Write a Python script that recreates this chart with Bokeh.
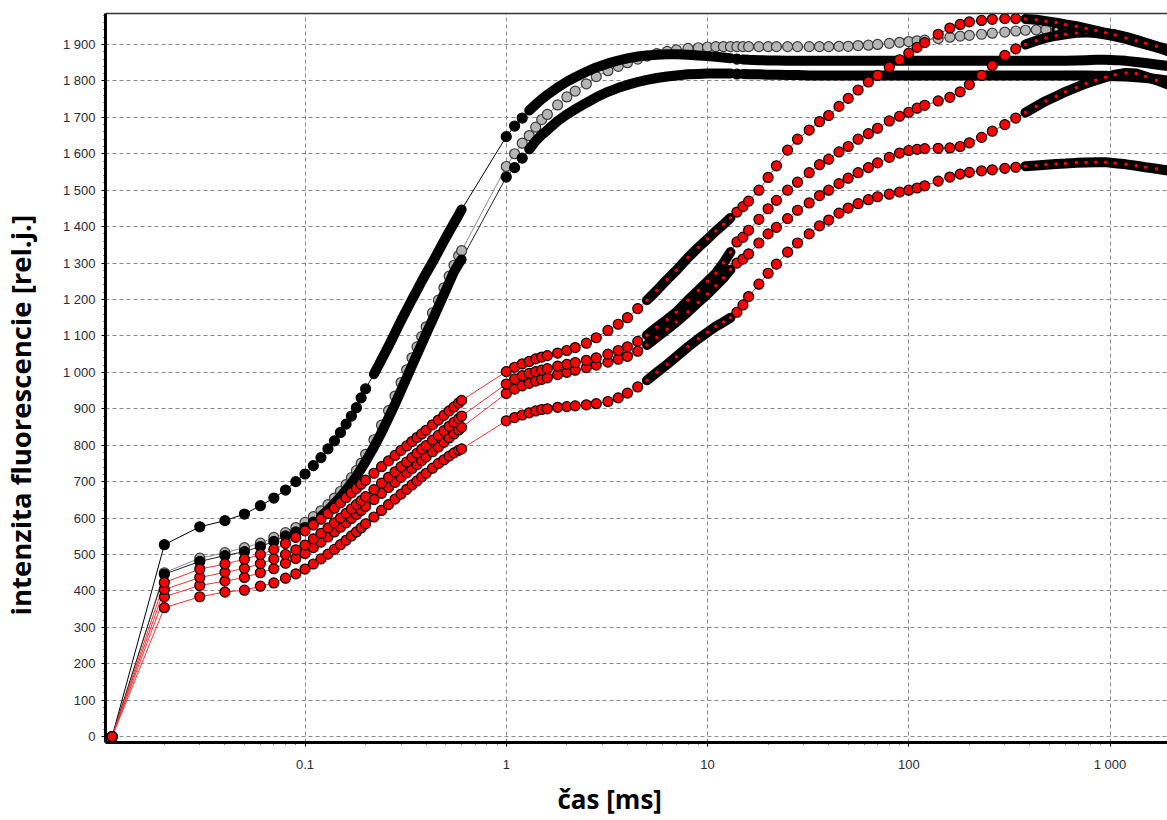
import math
from bokeh.plotting import figure
from bokeh.models import Range1d, FixedTicker, LogAxis, Title, CustomJSTickFormatter
from bokeh.embed import file_html
from bokeh.resources import INLINE

# time [ms]
time_ms = [0.011, 0.02, 0.03, 0.04, 0.05, 0.06, 0.07, 0.08, 0.09, 0.10,
           0.11, 0.12, 0.13, 0.14, 0.15, 0.16, 0.17, 0.18, 0.19, 0.20,
           0.22, 0.24, 0.26, 0.28, 0.30, 0.32, 0.34, 0.36, 0.38, 0.40,
           0.43, 0.46, 0.49, 0.52, 0.55, 0.58, 0.60,
           1.0, 1.1, 1.2, 1.3, 1.4, 1.5, 1.6, 1.8, 2.0, 2.2, 2.5, 2.8, 3.2, 3.6,
           4.0, 4.5, 5.0, 5.6, 6.3, 7.0, 8.0, 9.0, 10, 11, 12, 13,
           14, 15, 16, 18, 20, 22, 25, 28, 32, 36, 40, 45, 50, 56, 63, 70, 80, 90, 100,
           110, 120, 140, 160, 180, 200, 230, 260, 300, 340, 380, 430, 480, 540, 600,
           680, 760, 850, 950, 1060, 1200, 1350, 1500, 1700, 2000]

black_top = [0, 527, 576, 593, 611, 634, 655, 677, 700, 721,
             744, 766, 790, 812, 835, 858, 880, 903, 930, 955,
             995, 1035, 1072, 1108, 1142, 1172, 1200, 1225, 1250, 1272,
             1302, 1332, 1360, 1386, 1410, 1432, 1447,
             1647, 1676, 1698, 1719, 1735, 1750, 1762, 1782, 1798, 1810, 1825, 1837, 1848, 1856,
             1862, 1867, 1870, 1872, 1873, 1873, 1872, 1870, 1868, 1866, 1864, 1862,
             1860, 1859, 1858, 1857, 1856, 1856, 1855, 1855, 1855, 1855, 1855, 1855, 1855, 1855, 1855, 1855, 1855, 1855, 1855,
             1855, 1855, 1855, 1855, 1855, 1855, 1855, 1855, 1855, 1855, 1855, 1855, 1855, 1855, 1855,
             1856, 1857, 1858, 1858, 1857, 1855, 1852, 1849, 1845, 1840]

grey_mid = [0, 450, 490, 505, 519, 531, 547, 560, 574, 588,
            604, 620, 637, 655, 673, 692, 711, 730, 750, 775,
            815, 855, 895, 935, 972, 1007, 1040, 1070, 1098, 1125,
            1163, 1198, 1232, 1264, 1294, 1320, 1334,
            1565, 1600, 1629, 1650, 1673, 1694, 1708, 1734, 1756, 1772, 1792, 1812, 1828, 1840,
            1850, 1860, 1868, 1875, 1881, 1885, 1889, 1891, 1893, 1894, 1894, 1894,
            1894, 1894, 1894, 1894, 1894, 1894, 1894, 1894, 1894, 1894, 1894, 1895, 1895, 1897, 1898, 1900, 1903, 1906, 1908,
            1910, 1912, 1916, 1920, 1923, 1925, 1928, 1931, 1934, 1937, 1939, 1940, 1941, 1941, 1940,
            1938, 1935, 1931, 1927, 1922, 1915, 1907, 1900, 1892, 1880]

black_low = [0, 446, 481, 497, 508, 522, 536, 551, 562, 574,
             589, 605, 622, 640, 658, 677, 696, 715, 735, 755,
             795, 835, 875, 913, 950, 985, 1018, 1049, 1078, 1106,
             1144, 1180, 1214, 1246, 1276, 1298, 1310,
             1536, 1562, 1588, 1612, 1635, 1652, 1665, 1690, 1708, 1722, 1740, 1755, 1770, 1781,
             1789, 1797, 1803, 1808, 1812, 1815, 1818, 1819, 1820, 1820, 1820, 1820,
             1819, 1819, 1818, 1818, 1817, 1817, 1816, 1816, 1815, 1815, 1815, 1815, 1815, 1815, 1815, 1815, 1815, 1815, 1815,
             1815, 1815, 1815, 1815, 1815, 1815, 1815, 1815, 1815, 1815, 1815, 1815, 1815, 1815, 1815,
             1815, 1815, 1814, 1814, 1813, 1812, 1810, 1808, 1805, 1800]

red_1 = [0, 423, 460, 474, 487, 500, 514, 530, 547, 565,
         581, 597, 612, 627, 642, 656, 669, 681, 693, 704,
         723, 741, 757, 772, 786, 798, 810, 821, 831, 841,
         856, 869, 882, 894, 905, 916, 923,
         1002, 1014, 1023, 1030, 1037, 1042, 1046, 1053, 1060, 1068, 1080, 1095, 1115, 1132,
         1150, 1175, 1198, 1225, 1255, 1280, 1315, 1343, 1366, 1388, 1406, 1424,
         1440, 1455, 1470, 1500, 1535, 1567, 1610, 1640, 1665, 1688, 1705, 1730, 1752, 1775, 1797, 1815, 1838, 1858, 1876,
         1892, 1905, 1928, 1945, 1955, 1962, 1966, 1969, 1971, 1971, 1970, 1968, 1964, 1960, 1955,
         1950, 1944, 1938, 1932, 1926, 1918, 1910, 1903, 1895, 1885]

red_2 = [0, 404, 437, 451, 462, 475, 488, 500, 513, 526,
         543, 558, 573, 587, 600, 613, 625, 637, 648, 659,
         678, 696, 712, 727, 741, 754, 766, 778, 789, 799,
         814, 827, 840, 852, 863, 873, 880,
         968, 982, 991, 997, 1002, 1006, 1010, 1017, 1022, 1027, 1033, 1040, 1050, 1060,
         1070, 1085, 1102, 1124, 1145, 1165, 1198, 1225, 1250, 1272, 1300, 1330,
         1358, 1371, 1390, 1420, 1449, 1472, 1500, 1522, 1548, 1570, 1585, 1605, 1620, 1640, 1655, 1670, 1690, 1703, 1714,
         1725, 1733, 1745, 1755, 1770, 1790, 1815, 1842, 1870, 1888, 1900, 1910, 1918, 1924, 1928,
         1932, 1933, 1933, 1931, 1928, 1921, 1913, 1905, 1895, 1878]

red_3 = [0, 384, 415, 427, 437, 450, 461, 476, 489, 503,
         519, 534, 548, 562, 575, 587, 599, 610, 621, 632,
         651, 668, 684, 698, 712, 724, 736, 747, 758, 768,
         782, 795, 808, 820, 831, 842, 849,
         942, 954, 963, 970, 976, 981, 985, 994, 1000, 1006, 1013, 1020, 1028, 1036,
         1044, 1058, 1075, 1096, 1118, 1138, 1166, 1192, 1215, 1238, 1259, 1282,
         1300, 1311, 1325, 1355, 1380, 1398, 1422, 1445, 1465, 1485, 1500, 1518, 1533, 1548, 1562, 1575, 1590, 1602, 1609,
         1612, 1614, 1615, 1616, 1620, 1630, 1645, 1662, 1680, 1698, 1713, 1730, 1745, 1758, 1770,
         1782, 1793, 1802, 1810, 1817, 1822, 1820, 1812, 1802, 1787]

red_4 = [0, 354, 384, 397, 402, 413, 422, 435, 447, 460,
         474, 488, 501, 514, 527, 539, 551, 562, 573, 584,
         603, 621, 637, 652, 666, 679, 691, 702, 713, 723,
         737, 750, 760, 770, 779, 786, 790,
         867, 876, 883, 889, 894, 898, 900, 904, 906, 908, 911, 914, 920, 930,
         943, 960, 978, 1000, 1022, 1043, 1070, 1092, 1110, 1126, 1138, 1150,
         1165, 1185, 1208, 1242, 1272, 1297, 1330, 1355, 1380, 1402, 1418, 1437, 1451, 1463, 1474, 1482, 1489, 1495, 1500,
         1506, 1512, 1525, 1536, 1544, 1549, 1553, 1556, 1560, 1563, 1566, 1568, 1570, 1572, 1573,
         1575, 1576, 1577, 1577, 1574, 1571, 1567, 1563, 1559, 1553]

y_ticks = list(range(0, 2000, 100))
x_ticks = [0.1, 1, 10, 100, 1000]
x_minor = [m * d for d in (0.01, 0.1, 1, 10, 100, 1000) for m in range(2, 10)]

# time windows in which the recorded points lie so close that they merge into a band
dense_top = [(0.21, 0.6), (1.3, 13), (15, 2000)]
dense_low = [(0.12, 0.6), (1.3, 13), (15, 2000)]
dense_grey = [(540, 2000)]
dense_red = [(5.0, 13), (380, 2000)]

for s in (black_top, grey_mid, black_low, red_1, red_2, red_3, red_4):
    assert len(s) == len(time_ms), len(s)

p = figure(width=1167, height=820, x_axis_type="log",
           x_range=Range1d(0.0102, 1930), y_range=Range1d(-16, 1985),
           output_backend="svg", toolbar_location=None,
           min_border_left=104, min_border_right=0, min_border_top=13, min_border_bottom=78)
p.outline_line_color = None
p.background_fill_color = "white"
p.border_fill_color = "white"

grid_kw = dict(grid_line_color="#8a8a8a", grid_line_dash="4 3", grid_line_width=1)
for g in (p.xgrid, p.ygrid):
    for k, v in grid_kw.items():
        setattr(g, k, v)

fmt = CustomJSTickFormatter(code="""
const s = (tick > 0 && tick < 1) ? tick.toFixed(1) : Math.round(tick).toString();
return s.replace(/\\B(?=(\\d{3})+(?!\\d))/g, ' ');
""")

xa = p.xaxis[0]
xa.ticker = FixedTicker(ticks=x_ticks, minor_ticks=x_minor)
xa.formatter = fmt
ya = p.yaxis[0]
ya.ticker = FixedTicker(ticks=y_ticks, minor_ticks=list(range(0, 1981, 20)))
ya.formatter = fmt
for ax in (xa, ya):
    ax.axis_line_width = 3
    ax.axis_line_color = "black"
    ax.major_tick_line_color = "black"
    ax.major_tick_in = 0
    ax.major_tick_out = 4
    ax.minor_tick_line_color = "black"
    ax.minor_tick_in = 0
    ax.minor_tick_out = 2
    ax.major_label_text_font = "Liberation Sans"
    ax.major_label_text_font_size = "13px"
    ax.major_label_text_color = "#2a2a35"
    ax.major_label_standoff = 6
xa.major_label_standoff = 10
# invisible spacer label: widens the left axis panel so the title sits further out
ya.axis_label = " "
ya.axis_label_text_font_size = "1px"
ya.axis_label_standoff = 14

top = LogAxis(ticker=FixedTicker(ticks=[]), major_label_text_font_size="0px",
              major_tick_line_color=None, minor_tick_line_color=None,
              axis_line_color="#333333", axis_line_width=1.5)
p.add_layout(top, "above")

has_standoff = "standoff" in Title.properties()

yt_kw = dict(text="intenzita fluorescencie [rel.j.]", align="left", offset=127,
             vertical_align="top",
             text_font="Open Sans", text_font_size="27.5px", text_font_style="bold",
             text_color="black")
if has_standoff:
    yt_kw["standoff"] = 2
p.add_layout(Title(**yt_kw), "left")

xt_kw = dict(text="čas [ms]", align="left", offset=452,
             text_font="Open Sans", text_font_size="26px", text_font_style="bold",
             text_color="black")
if has_standoff:
    xt_kw["standoff"] = 8
p.add_layout(Title(**xt_kw), "below")


def in_windows(t, windows):
    return any(a <= t <= b for a, b in windows)


def split(vals, windows):
    band = [v if in_windows(t, windows) else math.nan for t, v in zip(time_ms, vals)]
    mx = [t for t in time_ms if not in_windows(t, windows)]
    my = [v for t, v in zip(time_ms, vals) if not in_windows(t, windows)]
    sx = [t for t in time_ms if in_windows(t, windows)]
    sy = [v for t, v in zip(time_ms, vals) if in_windows(t, windows)]
    return band, mx, my, sx, sy


series = [
    (grey_mid, "#b5b5b5", "#3a3a3a", "#8c8c8c", dense_grey),
    (black_top, "black", "black", "black", dense_top),
    (black_low, "black", "black", "#222222", dense_low),
    (red_4, "#ff0000", "black", "#ff3030", dense_red),
    (red_3, "#ff0000", "black", "#ff3030", dense_red),
    (red_2, "#ff0000", "black", "#ff3030", dense_red),
    (red_1, "#ff0000", "black", "#ff3030", dense_red),
]
for vals, fill, edge, lc, win in series:
    p.line(time_ms, vals, line_color=lc, line_width=1)
for vals, fill, edge, lc, win in series:
    band, mx, my, sx, sy = split(vals, win)
    p.line(time_ms, band, line_color="black", line_width=10, line_join="round", line_cap="round")
    p.scatter(mx, my, marker="circle", size=10, fill_color=fill,
              line_color=edge, line_width=1.2)
    if fill != "black":
        p.scatter(sx, sy, marker="circle", size=3.5, fill_color=fill, line_color=None)

open("out.html", "w").write(file_html(p, INLINE))
